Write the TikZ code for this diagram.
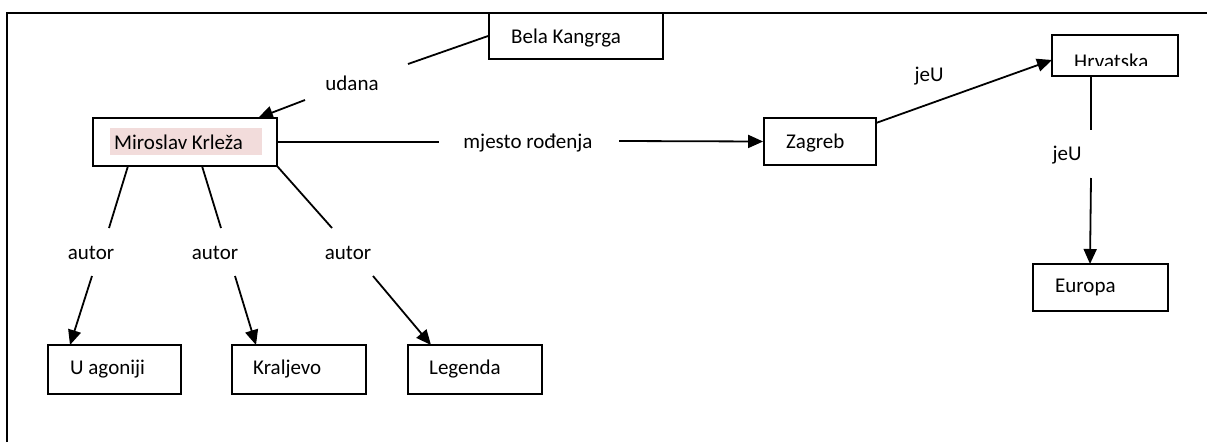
\documentclass[tikz,border=0pt]{standalone}
\usepackage{fontspec}
\setmainfont{Carlito}
\usetikzlibrary{arrows.meta}
\definecolor{pinkhl}{RGB}{242,220,219}
\tikzset{
  box/.style={draw=black, line width=1.8pt, fill=white, inner sep=0pt, anchor=center},
  txt/.style={font=\fontsize{21}{24}\selectfont, inner sep=0pt, anchor=west},
  lbl/.style={font=\fontsize{21}{24}\selectfont, inner sep=0pt, anchor=center},
  conn/.style={line width=1.8pt},
  arr/.style={line width=1.8pt, -{Triangle[length=15pt,width=13pt]}},
  frameline/.style={line width=2pt}
}
\begin{document}
\begin{tikzpicture}[x=1pt,y=-1pt]
\useasboundingbox (0,0) rectangle (1207,442);
% frame
\coordinate (fa) at (7,442);
\coordinate (fb) at (7,13);
\coordinate (fc) at (1207,13);
\draw[frameline] (fa) -- (fb) -- (fc);

% boxes
\node[box, minimum width=174pt, minimum height=46pt] (bela) at (576,36) {};
\node[box, minimum width=184pt, minimum height=48pt] (mk) at (185,142) {};
\node[box, minimum width=112pt, minimum height=47pt] (zagreb) at (820,141.5) {};
\node[box, minimum width=126pt, minimum height=41pt] (hrv) at (1115,55.5) {};
\node[box, minimum width=135pt, minimum height=47pt] (europa) at (1100.5,287.5) {};
\node[box, minimum width=133pt, minimum height=49pt] (ua) at (114.5,369.5) {};
\node[box, minimum width=134pt, minimum height=49pt] (kr) at (299,369.5) {};
\node[box, minimum width=134pt, minimum height=49pt] (leg) at (475,369.5) {};

% box texts
\fill[pinkhl] (110,128) rectangle (262,155);
\node[txt] (mktext) at (114,142) {Miroslav Krleža};
\node[txt] (belatext) at (511,38) {Bela Kangrga};
\node[txt] (zagtext) at (786,143) {Zagreb};
\begin{scope}
\clip (1053,36) rectangle (1177,65);
\node[txt, anchor=base west] (hrvtext) at (1074,68.5) {Hrvatska};
\end{scope}
\node[txt] (eurtext) at (1055,287) {Europa};
\node[txt] (uatext) at (70,369) {U agoniji};
\node[txt] (krtext) at (253,369) {Kraljevo};
\node[txt] (legtext) at (429,369) {Legenda};

% labels
\node[lbl] (udana) at (352,83) {udana};
\node[lbl] (mjesto) at (528,143) {mjesto rođenja};
\node[lbl] (jeu1) at (929,76) {jeU};
\node[lbl] (jeu2) at (1067,155) {jeU};
\node[lbl] (aut1) at (91,253) {autor};
\node[lbl] (aut2) at (215,253) {autor};
\node[lbl] (aut3) at (348,253) {autor};

% connector end points
\coordinate (u1) at (408,64);
\coordinate (u2) at (305,100);
\coordinate (mktop) at (258,118);
\coordinate (m1) at (439,142);
\coordinate (m2) at (619,141);
\coordinate (zr) at (876,123);
\coordinate (hl) at (1052,60);
\coordinate (hb) at (1091,76);
\coordinate (h1) at (1091,130);
\coordinate (h2) at (1091,178);
\coordinate (et) at (1090,264);
\coordinate (mb1) at (128,166);
\coordinate (mb2) at (202,166);
\coordinate (mb3) at (277,166);
\coordinate (a1u) at (109,228);
\coordinate (a2u) at (221,228);
\coordinate (a3u) at (332,228);
\coordinate (a1d) at (92,276);
\coordinate (a2d) at (235,276);
\coordinate (a3d) at (373,276);
\coordinate (uat) at (70,345);
\coordinate (krt) at (256,345);
\coordinate (legt) at (431,345);

% connectors
\draw[conn] (bela.west) -- (u1);
\draw[arr] (u2) -- (mktop);
\draw[conn] (mk.east) -- (m1);
\draw[arr] (m2) -- (zagreb.west);
\draw[arr] (zr) -- (hl);
\draw[conn] (hb) -- (h1);
\draw[arr] (h2) -- (et);
\draw[conn] (mb1) -- (a1u);
\draw[conn] (mb2) -- (a2u);
\draw[conn] (mb3) -- (a3u);
\draw[arr] (a1d) -- (uat);
\draw[arr] (a2d) -- (krt);
\draw[arr] (a3d) -- (legt);
\end{tikzpicture}
\end{document}
